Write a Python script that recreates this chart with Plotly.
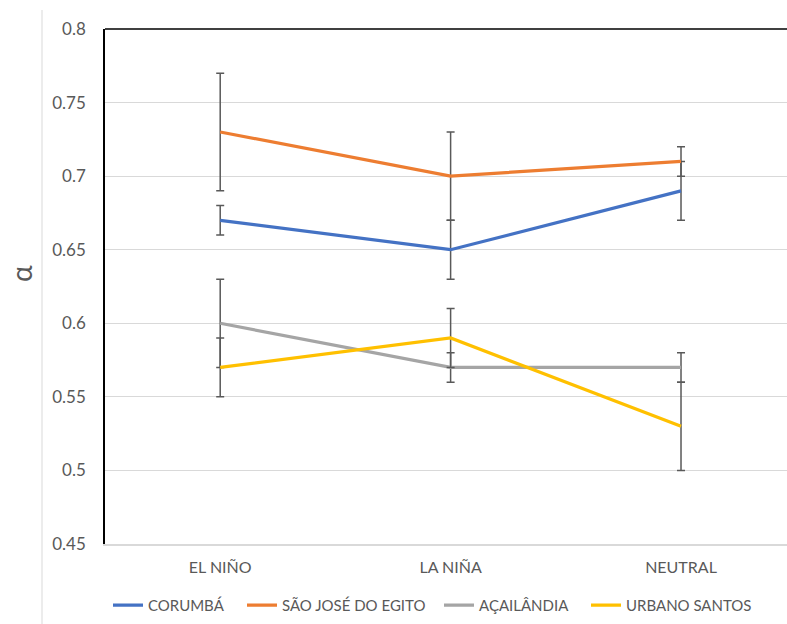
import plotly.graph_objects as go

categories = ["EL NIÑO", "LA NIÑA", "NEUTRAL"]
series_names = ["CORUMBÁ", "SÃO JOSÉ DO EGITO", "AÇAILÂNDIA", "URBANO SANTOS"]
corumba = [0.67, 0.65, 0.69]
corumba_err = [0.01, 0.02, 0.02]
sao_jose = [0.73, 0.70, 0.71]
sao_jose_err = [0.04, 0.03, 0.01]
acailandia = [0.60, 0.57, 0.57]
acailandia_err = [0.03, 0.01, 0.01]
urbano = [0.57, 0.59, 0.53]
urbano_err = [0.02, 0.02, 0.03]
y_ticks = [0.45, 0.5, 0.55, 0.6, 0.65, 0.7, 0.75, 0.8]

colors = ["#4472C4", "#ED7D31", "#A5A5A5", "#FFC000"]
values = [corumba, sao_jose, acailandia, urbano]
errors = [corumba_err, sao_jose_err, acailandia_err, urbano_err]

FONT = "Lato"
TXT = "#595959"

W, H = 787, 624
L, T, B, R = 105, 29, 80, 0
pw = W - L - R
ph = H - T - B

legend_ids = ["legend", "legend2", "legend3", "legend4"]
legend_px = [108, 242, 439, 586]

fig = go.Figure()
for name, vals, errs, col, lid in zip(series_names, values, errors, colors, legend_ids):
    fig.add_trace(go.Scatter(
        x=categories, y=vals, name=name, mode="lines",
        line=dict(color=col, width=3.2),
        error_y=dict(type="data", array=errs, visible=True,
                     color="#595959", thickness=1.5, width=4),
        legend=lid,
    ))

legend_cfg = {}
for lid, px in zip(legend_ids, legend_px):
    legend_cfg[lid] = dict(orientation="h", x=(px - L) / pw, xanchor="left",
                           y=-0.087, yanchor="top",
                           font=dict(size=15, color=TXT, family=FONT),
                           itemwidth=30, bgcolor="rgba(0,0,0,0)")

fig.update_layout(
    width=W, height=H,
    margin=dict(l=L, r=R, t=T, b=B, pad=0, autoexpand=False),
    paper_bgcolor="white", plot_bgcolor="white",
    font=dict(family=FONT, color=TXT),
    showlegend=True,
    xaxis=dict(type="category", range=[-0.5, 2.46], showgrid=False,
               showline=True, linecolor="#D9D9D9", linewidth=1.5,
               ticks="", tickfont=dict(size=16, color=TXT, family=FONT),
               ticklabelstandoff=8, zeroline=False),
    yaxis=dict(range=[0.45, 0.8], tickvals=y_ticks,
               ticktext=[f"{v:g}" for v in y_ticks],
               showgrid=True, gridcolor="#D9D9D9", gridwidth=1,
               showline=True, linecolor="black", linewidth=1.5,
               ticks="", tickfont=dict(size=17, color=TXT, family=FONT),
               ticklabelstandoff=14, zeroline=False),
    shapes=[
        dict(type="line", xref="paper", yref="paper", x0=0, x1=1, y0=1, y1=1,
             line=dict(color="black", width=1.5)),
        dict(type="line", xref="paper", yref="paper",
             x0=(42 - L) / pw, x1=(42 - L) / pw,
             y0=1 + (T - 10) / ph, y1=-(B) / ph,
             line=dict(color="#D9D9D9", width=1)),
    ],
    annotations=[
        dict(text="α", xref="paper", yref="paper",
             x=(21 - L) / pw, y=(H - B - 274) / ph,
             xanchor="center", yanchor="middle", showarrow=False,
             textangle=-90, font=dict(size=28, color=TXT, family=FONT)),
    ],
    **legend_cfg,
)

fig.write_html("out.html", config={"displayModeBar": False},
               post_script="document.body.style.margin='0px';document.body.style.overflow='hidden';")
